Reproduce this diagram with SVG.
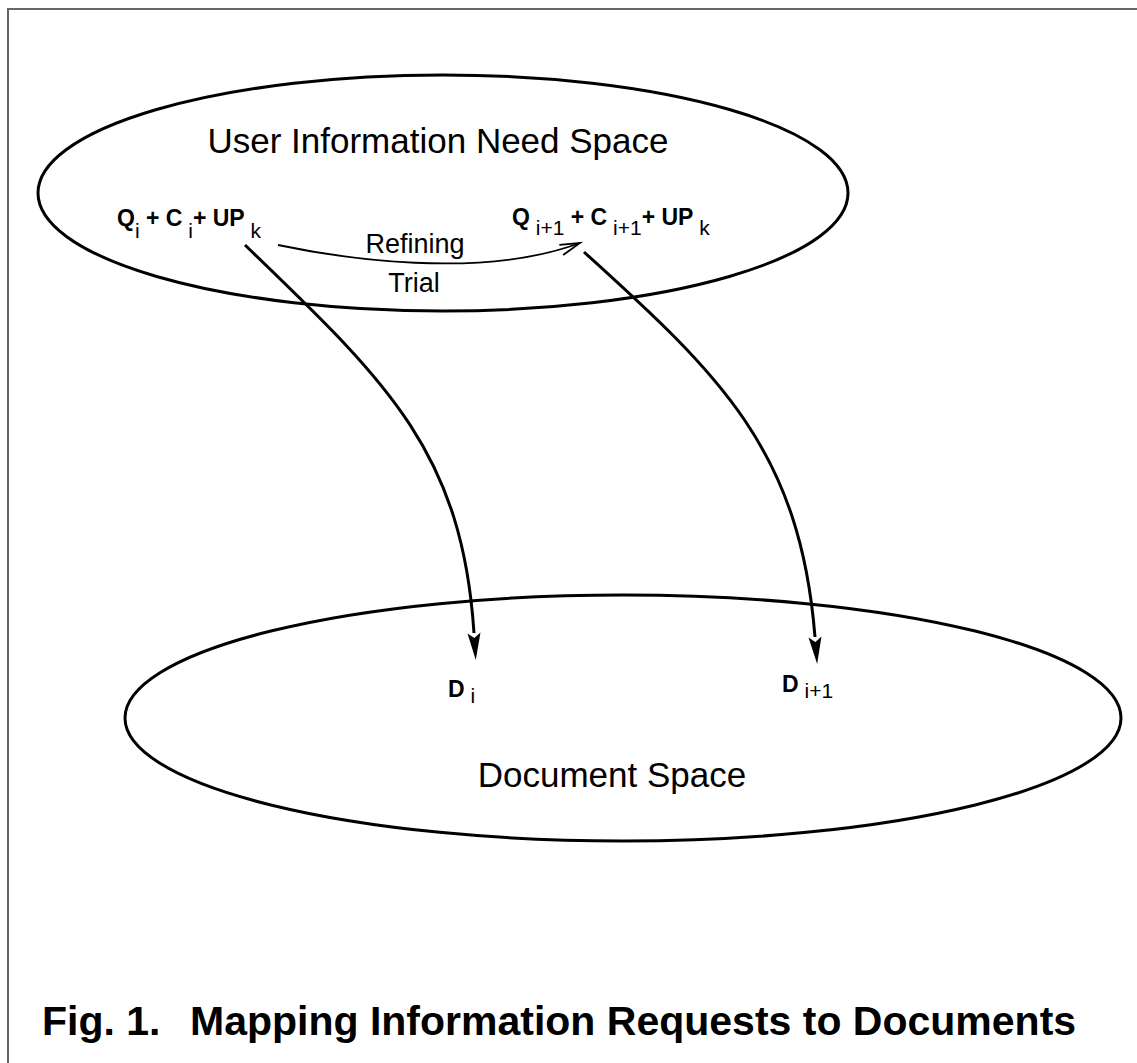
<svg xmlns="http://www.w3.org/2000/svg" width="1137" height="1063" viewBox="0 0 1137 1063">
  <style>
    .frame { fill: none; stroke: #666; stroke-width: 2; }
    .space { fill: none; stroke: #000; stroke-width: 3; }
    .title { font-family: "Liberation Sans", Arial, sans-serif; font-size: 35px; fill: #000; }
    .lbl { font-family: "Liberation Sans", Arial, sans-serif; font-size: 23px; font-weight: bold; fill: #000; }
    .sub { font-weight: normal; font-size: 21px; }
    .edge-lbl { font-family: "Liberation Sans", Arial, sans-serif; font-size: 27px; fill: #000; text-anchor: middle; }
    .map { fill: none; stroke: #000; stroke-width: 3; }
    .refine { fill: none; stroke: #000; stroke-width: 1.8; }
    .caption { font-family: "Liberation Sans", Arial, sans-serif; font-size: 41px; font-weight: bold; fill: #000; }
  </style>
  <defs>
    <marker id="head" markerUnits="userSpaceOnUse" markerWidth="30" markerHeight="16" refX="0" refY="8" orient="auto" overflow="visible">
      <path d="M27,8 L0,1.5 L5,8 L0,14.5 Z" fill="#000"/>
    </marker>
    <marker id="open" markerUnits="userSpaceOnUse" markerWidth="24" markerHeight="14" refX="21" refY="7" orient="auto" overflow="visible">
      <path d="M1,1.5 L21,7 L1,12.5" fill="none" stroke="#000" stroke-width="1.8"/>
    </marker>
  </defs>

  <rect class="frame" x="8" y="9" width="1140" height="1070"/>

  <g id="need-space">
    <ellipse class="space" cx="443" cy="193" rx="405" ry="118"/>
    <text class="title" x="438" y="153" text-anchor="middle">User Information Need Space</text>
  </g>

  <g id="doc-space">
    <ellipse class="space" cx="623" cy="718" rx="498" ry="123"/>
    <text class="title" x="612" y="787" text-anchor="middle">Document Space</text>
  </g>

  <g id="query-i">
    <text class="lbl" x="117" y="226">Q<tspan class="sub" dy="12">i</tspan><tspan dy="-12"> + C</tspan><tspan class="sub" dy="12"> i</tspan><tspan dy="-12">+ UP</tspan><tspan class="sub" dy="12"> k</tspan></text>
  </g>

  <g id="query-i1">
    <text class="lbl" x="512" y="225">Q<tspan class="sub" dy="10"> i+1</tspan><tspan dy="-10"> + C</tspan><tspan class="sub" dy="10"> i+1</tspan><tspan dy="-10">+ UP</tspan><tspan class="sub" dy="10"> k</tspan></text>
  </g>

  <g id="doc-i">
    <text class="lbl" x="448" y="697">D<tspan class="sub" dy="6"> i</tspan></text>
  </g>

  <g id="doc-i1">
    <text class="lbl" x="782" y="692">D<tspan class="sub" dy="6"> i+1</tspan></text>
  </g>

  <g id="connectors">
    <path class="refine" d="M278,245 C340,258 480,280 580,243" marker-end="url(#open)"/>
    <text class="edge-lbl" x="415" y="253">Refining</text>
    <text class="edge-lbl" x="414" y="292">Trial</text>
    <path class="map" d="M245,245 C385,380 462,450 474,633" marker-end="url(#head)"/>
    <path class="map" d="M584,252 C720,375 800,450 815,637" marker-end="url(#head)"/>
  </g>

  <text class="caption" x="42" y="1035">Fig. 1.</text>
  <text class="caption" x="190" y="1035">Mapping Information Requests to Documents</text>
</svg>
